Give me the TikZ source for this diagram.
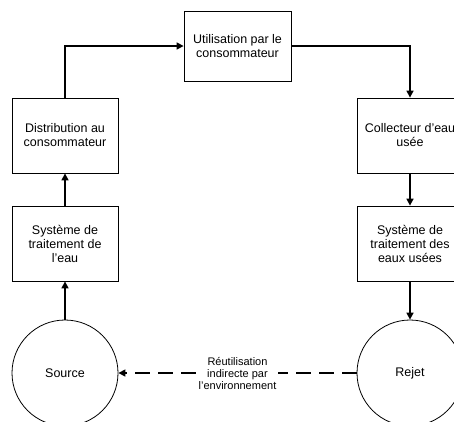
\documentclass[tikz,border=0pt]{standalone}
\usepackage{fontspec}
\setmainfont{Liberation Sans}
\usetikzlibrary{arrows.meta}
\tikzset{
    etape/.style={draw, line width=0.8pt, minimum width=106pt, minimum height=75pt, align=center, font=\fontsize{12.5}{14}\selectfont},
    bout/.style={draw, line width=0.8pt, circle, minimum size=106pt, font=\fontsize{12.5}{14}\selectfont},
    fleche/.style={line width=1.5pt, -{Triangle[length=7pt,width=7pt]}},
}
\begin{document}
\begin{tikzpicture}[x=1pt,y=-1pt]
        \useasboundingbox (0,0) rectangle (454,421);
        % cycle
        \node[etape, minimum width=107pt, minimum height=70pt] (util) at (237.5,46) {Utilisation par le\\consommateur};
        \node[etape] (distri) at (65,135.5) {Distribution au\\consommateur};
        \node[etape] (trait) at (65,243.5) {Système de\\traitement de\\l’eau};
        \node[etape] (coll) at (410,135.5) {Collecteur d’eau\\usée};
        \node[etape] (epur) at (410,243.5) {Système de\\traitement des\\eaux usées};
        \node[bout] (source) at (65,373) {Source};
        \node[bout] (rejet) at (410,373) {Rejet};

        \draw[fleche] (source) -- (trait);
        \draw[fleche] (trait) -- (distri);
        \draw[fleche] (distri.north) |- (util.west);
        \draw[fleche] (util.east) -| (coll.north);
        \draw[fleche] (coll) -- (epur);
        \draw[fleche] (epur) -- (rejet);
        \draw[fleche, dash pattern=on 15pt off 8pt] (rejet) -- node[fill=white, align=center, inner sep=2pt, font=\fontsize{11}{12}\selectfont] (reut) {Réutilisation\\indirecte par\\l’environnement} (source);
    \end{tikzpicture}
\end{document}
